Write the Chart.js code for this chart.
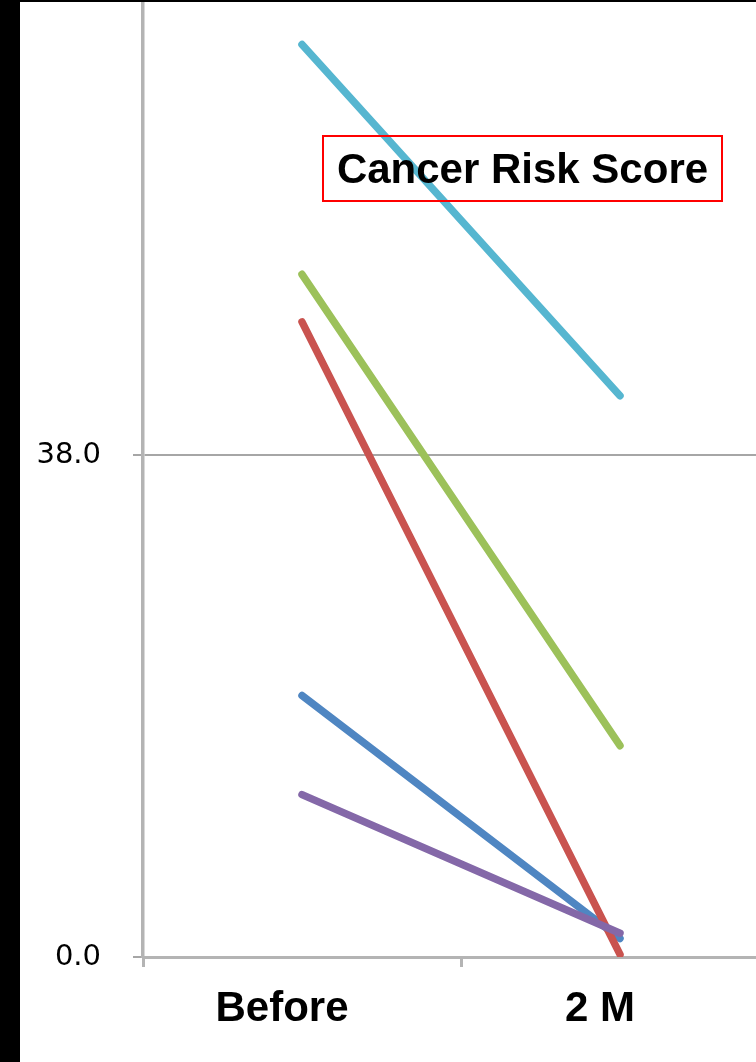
<!DOCTYPE html>
<html>
<head>
<meta charset="utf-8">
<title>Cancer Risk Score</title>
<script src="https://cdn.jsdelivr.net/npm/chart.js@4"></script>
<style>
  html, body { margin: 0; padding: 0; width: 756px; height: 1062px; overflow: hidden; background: #000; }
  #frame { position: absolute; left: 20px; top: 2px; width: 736px; height: 1060px; background: #fff; overflow: hidden; }
  #plot { position: absolute; left: 0; top: 0; }
  #title {
    position: absolute; left: 302px; top: 133px; width: 397px; height: 63px;
    border: 2px solid #f00; color: #000;
    font: bold 42px 'Liberation Sans', Arial, sans-serif;
    display: flex; align-items: center; justify-content: center;
    pointer-events: none;
  }
</style>
</head>
<body>
<div id="frame">
  <canvas id="plot"></canvas>
  <div id="title">Cancer Risk Score</div>
</div>
<script>
// Time points on the x axis
const categories = ['Before', '2 M'];

// One line per patient: score before treatment and after two months
const patientBlue   = [19.8, 1.4];
const patientRed    = [48.1, 0.2];
const patientGreen  = [51.7, 16.0];
const patientPurple = [12.3, 1.8];
const patientCyan   = [69.1, 42.5];

// Value axis: ticks every 38 points
const yMin = 0;
const yMax = 76;
const yStep = 38;

const series = [
  { data: patientBlue,   color: '#4f86c2' },
  { data: patientRed,    color: '#c9534f' },
  { data: patientGreen,  color: '#9cc15a' },
  { data: patientPurple, color: '#8468a8' },
  { data: patientCyan,   color: '#56b6d0' }
];

const axisGray = '#b4b4b4';

function makeConfig() {
  return {
    type: 'line',
    data: {
      labels: categories,
      datasets: series.map((s, i) => ({
        data: s.data.slice(),
        borderColor: s.color,
        backgroundColor: s.color,
        borderWidth: 7.5,
        borderCapStyle: 'round',
        borderJoinStyle: 'round',
        pointRadius: 0,
        pointHoverRadius: 0,
        tension: 0,
        fill: false,
        order: -i
      }))
    },
    options: {
      responsive: false,
      animation: false,
      events: [],
      layout: { padding: { top: 20, right: 0, bottom: 0, left: 0 } },
      plugins: { legend: { display: false }, tooltip: { enabled: false }, title: { display: false } },
      scales: {
        x: {
          offset: true,
          grid: { offset: true, drawOnChartArea: false, drawTicks: true, tickLength: 10, color: axisGray, lineWidth: 3 },
          border: { display: true, color: axisGray, width: 3 },
          ticks: {
            color: '#000',
            padding: 17,
            labelOffset: -20,
            maxRotation: 0,
            font: { family: "'Liberation Sans', Arial, sans-serif", size: 42, weight: 'bold' }
          },
          afterFit(scale) { scale.height = 110; }
        },
        y: {
          min: yMin,
          max: yMax,
          grid: { drawTicks: true, tickLength: 10, color: '#a6a6a6', lineWidth: 2 },
          border: { display: true, color: axisGray, width: 3.5 },
          ticks: {
            stepSize: yStep,
            color: '#000',
            padding: 32,
            font: { family: "'DejaVu Sans', Verdana, sans-serif", size: 29 },
            callback: v => Number(v).toFixed(1)
          },
          afterFit(scale) { scale.width = 130; }
        }
      }
    }
  };
}

const canvas = document.getElementById('plot');

function build(w, h) {
  canvas.width = w;
  canvas.height = h;
  canvas.style.width = w + 'px';
  canvas.style.height = h + 'px';
  return new Chart(canvas, makeConfig());
}

// Plot area: two category bands of 318px, 13.21px per score point
const bandWidth = 636;
const areaHeight = 1004;

let w = 770, h = 1140;
let chart = build(w, h);
let area = chart.chartArea;
const dw = bandWidth - (area.right - area.left);
const dh = areaHeight - (area.bottom - area.top);
if (Math.abs(dw) > 0.5 || Math.abs(dh) > 0.5) {
  chart.destroy();
  w = Math.round(w + dw);
  h = Math.round(h + dh);
  chart = build(w, h);
}

// Place the canvas so the value axis sits at x=123 and zero at y=955 inside the frame
const zeroY = chart.scales.y.getPixelForValue(0);
canvas.style.left = (123 - chart.chartArea.left) + 'px';
canvas.style.top = (955 - zeroY) + 'px';
</script>
</body>
</html>
